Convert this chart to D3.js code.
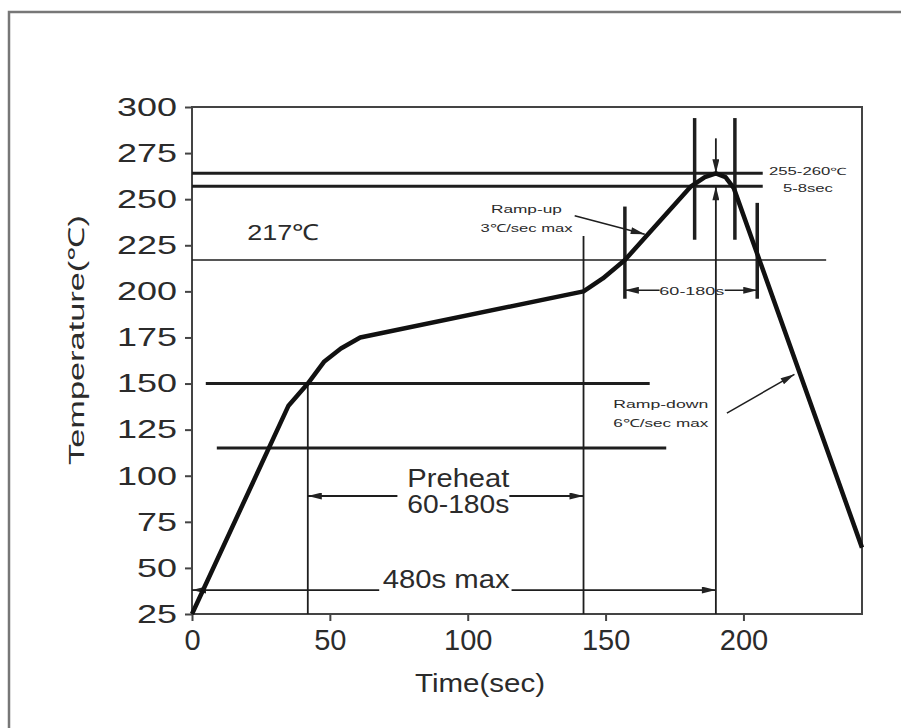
<!DOCTYPE html>
<html>
<head>
<meta charset="utf-8">
<script src="https://cdn.jsdelivr.net/npm/d3@7"></script>
<style>
  body { margin: 0; background: #fff; }
  svg { display: block; }
  text { font-family: "Liberation Sans", Arial, sans-serif; fill: #2b2b2b; }
</style>
</head>
<body>
<div id="chart"></div>
<script>
// Reflow profile (time in s, temperature in degC)
const profileTime = [0, 35, 42, 48, 54, 61, 142, 149, 157, 181, 186, 190, 193.5, 196.5, 243];
const profileTemp = [25, 138, 150, 162, 169, 175, 200, 207, 217, 257, 262, 264, 262, 256, 61];

const xTicks = [0, 50, 100, 150, 200];
const yTicks = [25, 50, 75, 100, 125, 150, 175, 200, 225, 250, 275, 300];

// horizontal limit lines: temperature, start time, end time
const thickLevels = [264, 257, 150, 115];
const thickStart = [0, 0, 5, 9];
const thickEnd = [207, 207, 166, 172];
const liquidus = 217;
const liquidusEnd = 230;

// thin vertical markers: time, top temperature
const markTime = [42, 142];
const markTop = [150, 230];
const peakTime = 190;

// thick vertical brackets: time, low, high
const bracketTime = [157, 205, 182.3, 196.9];
const bracketLow = [196, 196, 228, 228];
const bracketHigh = [246, 248, 294, 294];

const width = 901;
const height = 728;

const svg = d3.select("#chart")
  .append("svg")
  .attr("width", width)
  .attr("height", height);

// outer frame of the figure
svg.append("rect")
  .attr("x", 9).attr("y", 12)
  .attr("width", 1000).attr("height", 1000)
  .attr("fill", "none")
  .attr("stroke", "#777")
  .attr("stroke-width", 2.5);

const x = d3.scaleLinear().domain([0, 243]).range([192, 862]);
const y = d3.scaleLinear().domain([25, 300]).range([614, 107]);

// arrow head
const defs = svg.append("defs");
defs.append("marker")
  .attr("id", "arrow")
  .attr("markerUnits", "userSpaceOnUse")
  .attr("viewBox", "0 0 12 6")
  .attr("refX", 12).attr("refY", 3)
  .attr("markerWidth", 16).attr("markerHeight", 7)
  .attr("orient", "auto")
  .append("path")
  .attr("d", "M0,0L12,3L0,6Z")
  .attr("fill", "#222");

// plot box
svg.append("rect")
  .attr("x", x(0)).attr("y", y(300))
  .attr("width", x(243) - x(0)).attr("height", y(25) - y(300))
  .attr("fill", "none")
  .attr("stroke", "#444")
  .attr("stroke-width", 2);

const xAxis = svg.append("g")
  .attr("transform", `translate(0,${y(25)})`)
  .call(d3.axisBottom(x).tickValues(xTicks).tickSize(7).tickPadding(8));
xAxis.select(".domain").remove();
xAxis.selectAll("line").attr("stroke", "#444").attr("stroke-width", 2);
xAxis.selectAll("text")
  .attr("font-size", 29)
  .attr("font-family", "Liberation Sans, Arial, sans-serif")
  .attr("fill", "#2b2b2b");

const yAxis = svg.append("g")
  .attr("transform", `translate(${x(0)},0)`)
  .call(d3.axisLeft(y).tickValues(yTicks).tickSize(7).tickPadding(8));
yAxis.select(".domain").remove();
yAxis.selectAll("line").attr("stroke", "#444").attr("stroke-width", 2);
yAxis.selectAll("text")
  .attr("font-size", 26)
  .attr("font-family", "Liberation Sans, Arial, sans-serif")
  .attr("fill", "#2b2b2b")
  .attr("textLength", d => String(d).length * 20)
  .attr("lengthAdjust", "spacingAndGlyphs");

function line(x1, y1, x2, y2, w, arrow) {
  const l = svg.append("line")
    .attr("x1", x1).attr("y1", y1)
    .attr("x2", x2).attr("y2", y2)
    .attr("stroke", "#1e1e1e")
    .attr("stroke-width", w);
  if (arrow) l.attr("marker-end", "url(#arrow)");
  return l;
}

function label(txt, px, py, size, len, anchor) {
  const t = svg.append("text")
    .attr("x", px).attr("y", py)
    .attr("font-size", size)
    .attr("text-anchor", anchor || "middle")
    .text(txt);
  if (len) t.attr("textLength", len).attr("lengthAdjust", "spacingAndGlyphs");
  return t;
}

// limit lines
thickLevels.forEach((v, i) => line(x(thickStart[i]), y(v), x(thickEnd[i]), y(v), 3));
line(x(0), y(liquidus), x(liquidusEnd), y(liquidus), 1.6);

markTime.forEach((t, i) => line(x(t), y(markTop[i]), x(t), y(25), 1.8));
line(x(peakTime), y(25), x(peakTime), y(257), 1.8, true);
line(x(peakTime), y(283), x(peakTime), y(264), 1.8, true);

bracketTime.forEach((t, i) => line(x(t), y(bracketLow[i]), x(t), y(bracketHigh[i]), 3.5));

// dimension arrows
line(x(74.5), y(89), x(42), y(89), 1.8, true);
line(x(115.1), y(89), x(142), y(89), 1.8, true);
line(x(67.9), y(38), x(0), y(38), 1.8, true);
line(x(115.9), y(38), x(190), y(38), 1.8, true);
line(x(169.6), y(200.6), x(157), y(200.6), 1.6, true);
line(x(193.2), y(200.6), x(205), y(200.6), 1.6, true);

// leaders to the curve
line(x(138.8), y(241), x(164.2), y(231), 1.5, true);
line(x(194), y(134), x(218.5), y(155), 1.5, true);

// the profile curve
const pts = profileTime.map((t, i) => [t, profileTemp[i]]);
svg.append("path")
  .datum(pts)
  .attr("d", d3.line().x(d => x(d[0])).y(d => y(d[1])))
  .attr("fill", "none")
  .attr("stroke", "#111")
  .attr("stroke-width", 4.5)
  .attr("stroke-linejoin", "round");

// texts
label("217\u2103", x(20), y(228), 22, 72, "start");
label("Ramp-up", x(121.3), y(242.3), 11, 71);
label("3\u2103/sec max", x(121.3), y(232), 11, 92);
label("Ramp-down", x(170), y(136.7), 11, 95);
label("6\u2103/sec max", x(170), y(126.4), 11, 95);
label("255-260\u2103", x(223.4), y(263), 10, 78);
label("5-8sec", x(223.4), y(253.7), 10, 50);
label("60-180s", x(181.3), y(198), 10, 65);
label("Preheat", x(96.6), y(93.8), 25, 102);
label("60-180s", x(96.6), y(79.7), 25, 102);
label("480s max", x(92.2), y(39), 25, 127);

label("Time(sec)", 480, 692, 26, 130);
svg.append("text")
  .attr("transform", "translate(84,340) rotate(-90)")
  .attr("font-size", 22)
  .attr("text-anchor", "middle")
  .attr("textLength", 250)
  .attr("lengthAdjust", "spacingAndGlyphs")
  .text("Temperature(\u2103)");
</script>
</body>
</html>
